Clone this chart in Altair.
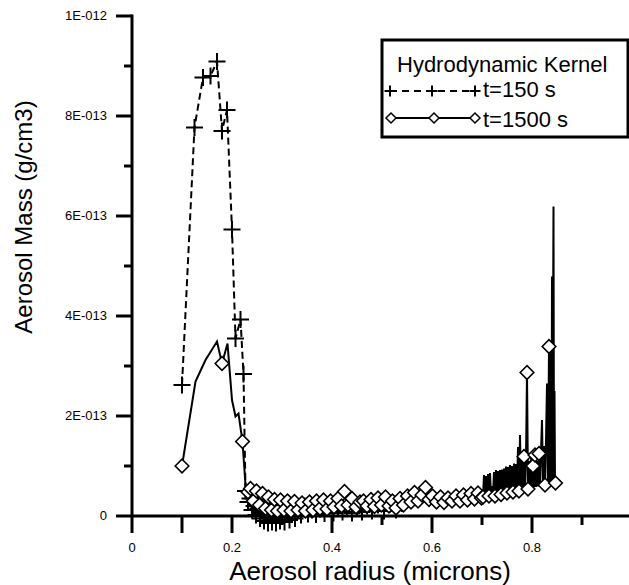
import altair as alt
import pandas as pd

UNIT = 1e-13  # values below are in units of 1E-013 g/cm3

# ---- t=150 s (dashed line, plus markers) ----
t150_x = [0.100, 0.125, 0.142, 0.157, 0.170, 0.180, 0.190, 0.200, 0.207, 0.217, 0.223,
          0.227, 0.232, 0.236, 0.240, 0.244, 0.248, 0.252, 0.256, 0.260, 0.264,
          0.268, 0.272, 0.276, 0.280, 0.284, 0.288, 0.292, 0.296, 0.300, 0.305,
          0.310, 0.315, 0.320, 0.326, 0.332, 0.338, 0.345, 0.352, 0.360, 0.368,
          0.376, 0.385, 0.394, 0.403, 0.412, 0.421, 0.430, 0.440, 0.450, 0.460,
          0.470, 0.480, 0.492, 0.504, 0.516, 0.528, 0.540]
t150_y = [2.62, 7.77, 8.77, 8.80, 9.09, 7.70, 8.12, 5.73, 3.55, 3.93, 2.84,
          0.50, 0.28, 0.35, 0.12, 0.20, 0.02, 0.15, -0.05, 0.10, -0.10,
          0.08, -0.14, 0.05, -0.12, 0.06, -0.14, 0.04, -0.10, 0.08, -0.12,
          0.05, -0.08, 0.10, -0.05, 0.12, 0.02, 0.20, 0.04, 0.12, 0.03,
          0.14, 0.05, 0.15, 0.06, 0.18, 0.08, 0.16, 0.06, 0.18, 0.08,
          0.20, 0.10, 0.22, 0.10, 0.24, 0.12, 0.25]

# ---- t=1500 s (solid line, diamond markers on flagged points) ----
t1500_x = [0.100, 0.127, 0.147, 0.170, 0.180, 0.191, 0.200, 0.207, 0.213, 0.221,
           0.227, 0.232, 0.237, 0.243, 0.249, 0.255, 0.261, 0.267, 0.273, 0.279,
           0.285, 0.291, 0.297, 0.304, 0.311, 0.318, 0.325, 0.332, 0.340, 0.347,
           0.355, 0.362, 0.369, 0.376, 0.383, 0.390, 0.397, 0.404, 0.412, 0.419,
           0.425, 0.432, 0.440, 0.448, 0.456, 0.463, 0.470, 0.478, 0.485, 0.492,
           0.499, 0.507, 0.514, 0.521, 0.528, 0.536, 0.543, 0.551, 0.558, 0.565,
           0.572, 0.580, 0.587, 0.594, 0.601, 0.609, 0.617, 0.624, 0.632, 0.640,
           0.648, 0.656, 0.663, 0.671, 0.678, 0.685, 0.692, 0.699,
           0.702, 0.704, 0.706, 0.708, 0.710, 0.712, 0.714, 0.716, 0.718, 0.720,
           0.722, 0.724, 0.726, 0.728, 0.730, 0.732, 0.734, 0.736, 0.738, 0.740,
           0.742, 0.744, 0.746, 0.748, 0.750, 0.752, 0.754, 0.756, 0.758, 0.760,
           0.762, 0.764, 0.766, 0.768, 0.770, 0.772, 0.774, 0.776, 0.778, 0.780,
           0.782, 0.784, 0.786, 0.788, 0.790, 0.792, 0.794, 0.796, 0.798, 0.800,
           0.802, 0.804, 0.806, 0.808, 0.810, 0.812, 0.814, 0.816, 0.818, 0.820,
           0.822, 0.824, 0.826, 0.828, 0.830, 0.832, 0.834, 0.836, 0.837, 0.838,
           0.839, 0.840, 0.841, 0.842, 0.843, 0.844, 0.845, 0.846, 0.847]
t1500_y = [1.00, 2.69, 3.12, 3.49, 3.05, 3.45, 2.32, 1.99, 2.05, 1.49,
           0.62, 0.48, 0.55, 0.30, 0.50, 0.22, 0.45, 0.15, 0.38, 0.12,
           0.33, 0.10, 0.32, 0.12, 0.30, 0.10, 0.29, 0.12, 0.26, 0.10,
           0.28, 0.12, 0.30, 0.15, 0.32, 0.14, 0.30, 0.18, 0.35, 0.20,
           0.49, 0.22, 0.35, 0.18, 0.28, 0.30, 0.20, 0.33, 0.19, 0.36,
           0.22, 0.38, 0.20, 0.30, 0.16, 0.35, 0.22, 0.40, 0.28, 0.47,
           0.30, 0.42, 0.57, 0.33, 0.40, 0.28, 0.38, 0.27, 0.36, 0.30,
           0.40, 0.30, 0.42, 0.32, 0.45, 0.34, 0.46, 0.36,
           0.38, 0.82, 0.36, 0.80, 0.38, 0.84, 0.40, 0.86, 0.39, 0.60,
           0.41, 0.88, 0.40, 0.92, 0.42, 0.90, 0.42, 0.92, 0.43, 0.93,
           0.44, 0.95, 0.44, 0.99, 0.46, 0.98, 0.46, 1.02, 0.47, 1.00,
           0.48, 1.05, 0.49, 1.04, 0.50, 1.38, 0.50, 1.62, 0.51, 1.12,
           0.52, 1.19, 0.53, 1.15, 2.87, 0.54, 1.10, 0.55, 1.20, 0.56,
           1.00, 0.57, 1.22, 0.58, 1.10, 0.59, 1.25, 0.60, 1.30, 1.92,
           0.61, 1.40, 0.62, 1.50, 2.65, 0.63, 3.39, 0.64, 2.40, 3.40,
           0.65, 4.79, 0.66, 3.60, 6.19, 0.68, 2.50, 0.67, 0.66]
t1500_marker = [1, 0, 0, 0, 1, 0, 0, 0, 0, 1,
                0, 1, 1, 1, 1, 1, 1, 1, 1, 1,
                1, 1, 1, 1, 1, 1, 1, 1, 1, 1,
                1, 1, 1, 1, 1, 1, 1, 1, 1, 1,
                1, 1, 1, 1, 1, 1, 1, 1, 1, 1,
                1, 1, 1, 1, 1, 1, 1, 1, 1, 1,
                1, 1, 1, 1, 1, 1, 1, 1, 1, 1,
                1, 1, 1, 1, 1, 1, 1, 1,
                1, 0, 0, 0, 0, 0, 1, 0, 0, 0,
                0, 0, 1, 0, 0, 0, 0, 0, 1, 0,
                0, 0, 0, 0, 1, 0, 0, 0, 0, 0,
                1, 0, 0, 0, 0, 0, 1, 0, 0, 0,
                0, 1, 0, 0, 1, 1, 0, 0, 0, 0,
                1, 0, 1, 0, 0, 0, 1, 0, 0, 0,
                0, 0, 1, 0, 0, 0, 1, 0, 0, 0,
                0, 0, 0, 0, 0, 0, 0, 0, 1]

# axis ticks and tick labels
x_major = [0, 0.1, 0.2, 0.4, 0.6, 0.8]
x_minor = [0.3, 0.5, 0.7, 0.9]
x_label_vals = [0, 0.2, 0.4, 0.6, 0.8]
x_labels = ["0", "0.2", "0.4", "0.6", "0.8"]
y_major = [0, 2, 4, 6, 8, 10]
y_minor = [1, 3, 5, 7, 9]
y_labels = ["0", "2E-013", "4E-013", "6E-013", "8E-013", "1E-012"]

x_title = "Aerosol radius (microns)"
y_title = "Aerosol Mass (g/cm3)"
legend_title = "Hydrodynamic Kernel"
series_names = ["t=150 s", "t=1500 s"]

FONT = "Liberation Sans"
PLUS = "M-1,0L1,0M0,-1L0,1"

df150 = pd.DataFrame({"r": t150_x, "m": [v * UNIT for v in t150_y]})
df1500 = pd.DataFrame({"r": t1500_x, "m": [v * UNIT for v in t1500_y], "f": t1500_marker})
df1500m = df1500[df1500["f"] == 1]

xs = alt.Scale(domain=[0, 0.994], nice=False, zero=False)
ys = alt.Scale(domain=[0, 1e-12], nice=False, zero=False)

X = alt.X("r:Q", scale=xs, axis=None)
Y = alt.Y("m:Q", scale=ys, axis=None)

line150 = alt.Chart(df150).mark_line(color="black", strokeWidth=2, strokeDash=[7, 4]).encode(x=X, y=Y)
pts150 = alt.Chart(df150).mark_point(shape=PLUS, filled=False, color="black", strokeWidth=2,
                                     size=290, opacity=1).encode(x=X, y=Y)
line1500 = alt.Chart(df1500).mark_line(color="black", strokeWidth=2).encode(x=X, y=Y)
pts1500 = alt.Chart(df1500m).mark_point(shape="diamond", filled=True, fill="white", stroke="black",
                                        strokeWidth=1.6, size=185, opacity=1).encode(x=X, y=Y)

# ---- hand-drawn axes ----
one = pd.DataFrame({"k": [0]})
x_domain = alt.Chart(one).mark_rule(color="black", strokeWidth=3).encode(
    x=alt.value(0), x2=alt.value(497), y=alt.value(500))
y_domain = alt.Chart(one).mark_rule(color="black", strokeWidth=3, strokeCap="square").encode(
    x=alt.value(0), y=alt.value(0), y2=alt.value(500))
x_major_ticks = alt.Chart(pd.DataFrame({"r": x_major})).mark_rule(color="black", strokeWidth=3).encode(
    x=X, y=alt.value(500), y2=alt.value(517))
x_minor_ticks = alt.Chart(pd.DataFrame({"r": x_minor})).mark_rule(color="black", strokeWidth=3).encode(
    x=X, y=alt.value(500), y2=alt.value(509))
y_major_ticks = alt.Chart(pd.DataFrame({"m": [v * UNIT for v in y_major]})).mark_rule(color="black", strokeWidth=3).encode(
    y=Y, x=alt.value(-16), x2=alt.value(0))
y_minor_ticks = alt.Chart(pd.DataFrame({"m": [v * UNIT for v in y_minor]})).mark_rule(color="black", strokeWidth=3).encode(
    y=Y, x=alt.value(-8), x2=alt.value(0))
x_tick_labels = alt.Chart(pd.DataFrame({"r": x_label_vals, "t": x_labels})).mark_text(
    align="center", baseline="middle", fontSize=13, font=FONT, color="black").encode(
    x=X, y=alt.value(532), text="t:N")
y_tick_labels = alt.Chart(pd.DataFrame({"m": [v * UNIT for v in y_major], "t": y_labels})).mark_text(
    align="right", baseline="middle", fontSize=13, font=FONT, color="black").encode(
    y=Y, x=alt.value(-25), text="t:N")
x_title_mark = alt.Chart(pd.DataFrame({"t": [x_title]})).mark_text(
    align="center", baseline="alphabetic", fontSize=26, font=FONT, color="black").encode(
    x=alt.value(238), y=alt.value(564), text="t:N")
y_title_mark = alt.Chart(pd.DataFrame({"t": [y_title]})).mark_text(
    align="center", baseline="alphabetic", fontSize=24, font=FONT, color="black", angle=270).encode(
    x=alt.value(-100), y=alt.value(201), text="t:N")

# ---- legend (hand built) ----
box = alt.Chart(one).mark_rect(fill="white", stroke="black", strokeWidth=3).encode(
    x=alt.value(250), x2=alt.value(496), y=alt.value(24), y2=alt.value(121))
leg_title = alt.Chart(pd.DataFrame({"t": [legend_title]})).mark_text(
    align="left", baseline="alphabetic", fontSize=22, font=FONT, color="black").encode(
    text="t:N", x=alt.value(265), y=alt.value(56))
leg_lab1 = alt.Chart(pd.DataFrame({"t": [series_names[0]]})).mark_text(
    align="left", baseline="alphabetic", fontSize=22, font=FONT, color="black").encode(
    text="t:N", x=alt.value(351), y=alt.value(81))
leg_lab2 = alt.Chart(pd.DataFrame({"t": [series_names[1]]})).mark_text(
    align="left", baseline="alphabetic", fontSize=22, font=FONT, color="black").encode(
    text="t:N", x=alt.value(351), y=alt.value(111))
leg_line1 = alt.Chart(one).mark_rule(color="black", strokeWidth=2, strokeDash=[7, 5]).encode(
    x=alt.value(258), x2=alt.value(343), y=alt.value(75))
leg_line2 = alt.Chart(one).mark_rule(color="black", strokeWidth=2).encode(
    x=alt.value(259), x2=alt.value(343), y=alt.value(102))
leg_syms = []
for px in (258, 300, 343):
    leg_syms.append(alt.Chart(one).mark_point(shape=PLUS, filled=False, color="black", strokeWidth=2,
                                              size=121, opacity=1).encode(x=alt.value(px), y=alt.value(75)))
for px in (259, 302, 343):
    leg_syms.append(alt.Chart(one).mark_point(shape="diamond", filled=True, fill="white", stroke="black",
                                              strokeWidth=1.5, size=100, opacity=1).encode(x=alt.value(px), y=alt.value(102)))

chart = alt.layer(
    x_major_ticks, x_minor_ticks, y_major_ticks, y_minor_ticks, x_domain, y_domain,
    x_tick_labels, y_tick_labels, x_title_mark, y_title_mark,
    line150, pts150, line1500, pts1500,
    box, leg_title, leg_lab1, leg_lab2, leg_line1, leg_line2, *leg_syms
).properties(
    width=497, height=500,
    autosize=alt.AutoSizeParams(type="none"),
    padding={"left": 132, "top": 16, "right": 0, "bottom": 69},
    background="white",
).configure_view(stroke=None)

chart.save("out.html", embed_options={"renderer": "svg", "actions": False})
